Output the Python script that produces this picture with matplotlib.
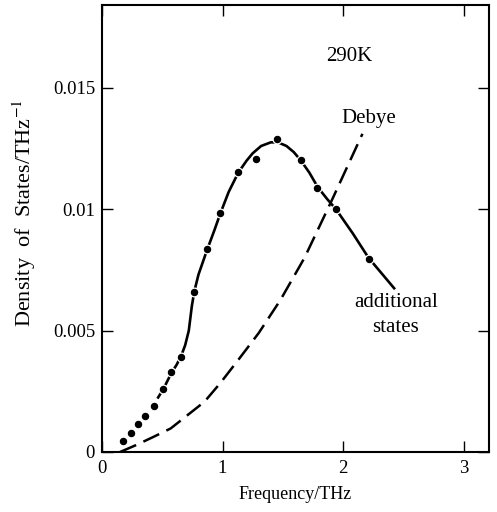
import matplotlib
matplotlib.use("Agg")
import matplotlib.pyplot as plt

plt.rcParams['font.family'] = ['Liberation Serif', 'DejaVu Serif']
plt.rcParams['mathtext.fontset'] = 'stix'

# measured data points
pt_x = [0.176, 0.237, 0.295, 0.355, 0.433, 0.510, 0.571, 0.657, 0.762, 0.873,
        0.981, 1.127, 1.277, 1.448, 1.647, 1.786, 1.943, 2.214]
pt_y = [0.00047, 0.00079, 0.00115, 0.00147, 0.00189, 0.0026, 0.0033, 0.0039,
        0.0066, 0.00834, 0.00986, 0.01151, 0.01206, 0.0129, 0.01202, 0.01085,
        0.0100, 0.00793]

# fitted solid curve
fit_x = [0.46, 0.51, 0.57, 0.62, 0.66, 0.69, 0.72, 0.745, 0.765, 0.80, 0.87,
         0.93, 0.98, 1.05, 1.13, 1.20, 1.25, 1.32, 1.40, 1.46, 1.53, 1.59,
         1.65, 1.72, 1.79, 1.87, 1.94, 2.08, 2.21, 2.43]
fit_y = [0.0022, 0.0026, 0.0032, 0.0036, 0.0040, 0.0044, 0.0050, 0.0060,
         0.0066, 0.0073, 0.0083, 0.0091, 0.0098, 0.0107, 0.0115, 0.0120,
         0.0123, 0.0126, 0.01275, 0.01275, 0.0126, 0.01235, 0.0120, 0.0115,
         0.0109, 0.0104, 0.0100, 0.0090, 0.0080, 0.0067]

# Debye curve (dashed)
deb_x = [0.15, 0.29, 0.43, 0.57, 0.71, 0.85, 0.98, 1.13, 1.30, 1.48, 1.68,
         1.90, 2.16]
deb_y = [0.0, 0.0003, 0.00063, 0.00097, 0.00152, 0.00207, 0.00283, 0.00379,
         0.0049, 0.00626, 0.0080, 0.0103, 0.0131]

x_ticks = [0, 1, 2, 3]
x_ticklabels = ['0', '1', '2', '3']
y_ticks = [0, 0.005, 0.01, 0.015]
y_ticklabels = ['0', '0.005', '0.01', '0.015']

fig = plt.figure(figsize=(4.97, 5.12), dpi=100)
ax = fig.add_axes([0.2052, 0.1172, 0.984 - 0.2052, 0.990 - 0.1172])

ax.plot(fit_x, fit_y, color='black', lw=1.9, solid_capstyle='butt')
ax.plot(deb_x, deb_y, color='black', lw=1.8, dashes=(7, 3.2))
ax.plot(pt_x, pt_y, 'o', color='black', markersize=6.3,
        markeredgecolor='white', markeredgewidth=0.9)

ax.set_xlim(0, 3.21)
ax.set_ylim(0, 0.0184)
ax.set_xticks(x_ticks)
ax.set_xticklabels(x_ticklabels)
ax.set_yticks(y_ticks)
ax.set_yticklabels(y_ticklabels)
ax.tick_params(direction='in', length=8, width=1.0, top=True, right=True,
               labelsize=13.5, pad=6, colors='black')
ax.tick_params(axis='y', pad=5)
for s in ax.spines.values():
    s.set_linewidth(1.5)

ax.set_xlabel('Frequency/THz', fontsize=13, labelpad=6)
ax.set_ylabel('Density  of  States/THz$^{-1}$', fontsize=16)
ax.yaxis.set_label_coords(-0.165, 0.535)

ax.text(2.05, 0.01627, '290K', fontsize=15, ha='center', va='center')
ax.text(2.214, 0.01373, 'Debye', fontsize=15, ha='center', va='center')
ax.text(2.436, 0.00564, 'additional\nstates', fontsize=15, ha='center',
        va='center', linespacing=1.45)

fig.savefig('out.png', dpi=100)
